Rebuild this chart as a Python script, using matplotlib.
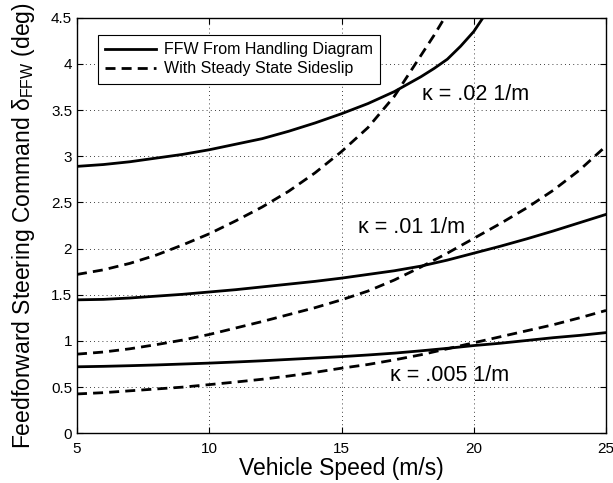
import matplotlib
matplotlib.use("Agg")
import matplotlib.pyplot as plt

plt.rcParams["font.family"] = ["Liberation Sans", "DejaVu Sans"]
plt.rcParams["mathtext.fontset"] = "custom"
plt.rcParams["mathtext.rm"] = "Liberation Sans"
plt.rcParams["mathtext.it"] = "Liberation Sans:italic"

# values (speed in m/s, steering in deg)
speed = [5, 6, 7, 8, 9, 10, 11, 12, 13, 14, 15, 16, 17, 18, 19, 20, 21, 22, 23, 24, 25]

# kappa = .02 1/m (both leave the top of the plot)
v_ffw_02 = speed[:14] + [18.5, 19, 19.5, 20, 20.35]
d_ffw_02 = [2.89, 2.91, 2.94, 2.98, 3.02, 3.07, 3.13, 3.19, 3.27, 3.36,
            3.46, 3.57, 3.70, 3.86, 3.95, 4.05, 4.19, 4.35, 4.5]
v_ss_02 = speed[:12] + [17, 17.5, 18, 18.5, 18.9]
d_ss_02 = [1.72, 1.77, 1.84, 1.93, 2.04, 2.16, 2.30, 2.45, 2.62, 2.82,
           3.05, 3.31, 3.65, 3.87, 4.09, 4.31, 4.5]

# kappa = .01 1/m
d_ffw_01 = [1.445, 1.45, 1.465, 1.485, 1.505, 1.53, 1.555, 1.585, 1.615, 1.645,
            1.68, 1.72, 1.76, 1.81, 1.875, 1.95, 2.025, 2.105, 2.19, 2.28, 2.37]
d_ss_01 = [0.857, 0.88, 0.915, 0.96, 1.01, 1.07, 1.14, 1.21, 1.285, 1.36,
           1.445, 1.54, 1.66, 1.80, 1.95, 2.11, 2.27, 2.44, 2.63, 2.85, 3.11]

# kappa = .005 1/m
d_ffw_005 = [0.72, 0.725, 0.732, 0.74, 0.75, 0.76, 0.772, 0.785, 0.80, 0.815,
             0.83, 0.848, 0.868, 0.893, 0.92, 0.95, 0.975, 1.005, 1.035, 1.06, 1.09]
d_ss_005 = [0.426, 0.44, 0.46, 0.48, 0.50, 0.527, 0.555, 0.585, 0.62, 0.66,
            0.705, 0.745, 0.795, 0.85, 0.915, 0.98, 1.045, 1.11, 1.175, 1.25, 1.33]

legend_labels = ["FFW From Handling Diagram", "With Steady State Sideslip"]
x_ticks = [5, 10, 15, 20, 25]
y_ticks = [0, 0.5, 1, 1.5, 2, 2.5, 3, 3.5, 4, 4.5]

fig = plt.figure(figsize=(6.13, 4.83), dpi=100)
ax = fig.add_axes([0.1256, 0.1029, 0.863, 0.8605])

lw = 2.0
dash = (0, (3.6, 2.2))
ax.plot(v_ffw_02, d_ffw_02, color="k", lw=lw, label=legend_labels[0])
ax.plot(v_ss_02, d_ss_02, color="k", lw=lw, linestyle=dash, label=legend_labels[1])
ax.plot(speed, d_ffw_01, color="k", lw=lw)
ax.plot(speed, d_ss_01, color="k", lw=lw, linestyle=dash)
ax.plot(speed, d_ffw_005, color="k", lw=lw)
ax.plot(speed, d_ss_005, color="k", lw=lw, linestyle=dash)

ax.text(18.03, 3.67, "κ = .02 1/m", fontsize=15.5, va="center")
ax.text(15.62, 2.23, "κ = .01 1/m", fontsize=15.5, va="center")
ax.text(16.83, 0.63, "κ = .005 1/m", fontsize=15.5, va="center")

ax.set_xlim(5, 25)
ax.set_ylim(0, 4.5)
ax.set_xticks(x_ticks)
ax.set_yticks(y_ticks)
ax.set_yticklabels(["%g" % t for t in y_ticks])
ax.tick_params(direction="in", top=True, right=True, labelsize=11, length=4)
ax.tick_params(axis="x", pad=6)
ax.grid(True, color="k", linestyle=(0, (1, 4)), linewidth=0.6)
for s in ax.spines.values():
    s.set_linewidth(1.0)

ax.set_xlabel("Vehicle Speed (m/s)", fontsize=16.5, labelpad=1)
ax.set_ylabel(r"Feedforward Steering Command δ$_{\mathrm{FFW}}$ (deg)", fontsize=16.5, labelpad=10)

leg = ax.legend(loc="upper left", bbox_to_anchor=(0.039, 0.958), borderaxespad=0,
                fontsize=11.5, handlelength=3.2, fancybox=False, framealpha=1,
                edgecolor="k", borderpad=0.45, labelspacing=0.25, handletextpad=0.5)
leg.get_frame().set_linewidth(0.8)

fig.savefig("out.png", dpi=100)
